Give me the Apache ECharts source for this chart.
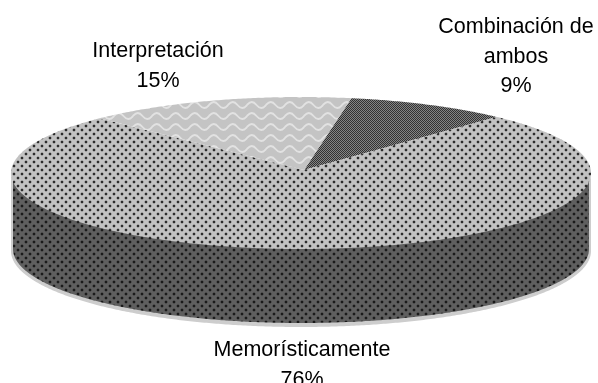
<!DOCTYPE html>
<html>
<head>
<meta charset="utf-8">
<style>html,body{margin:0;padding:0;background:#fff}#chart{width:598px;height:383px}</style>
<script src="https://cdn.jsdelivr.net/npm/echarts@6/dist/echarts.min.js"></script>
</head>
<body>
<div id="chart"></div>
<script>
// Survey shares, clockwise from the slice that begins near twelve o'clock.
var categories = ['Combinación de\nambos', 'Memorísticamente', 'Interpretación'];
var shares = [9, 76, 15];

// Disc geometry of the tilted pie.
var disc = { cx: 301, cy: 173, rx: 290, ry: 76, depth: 76, apexX: 304, apexY: 170, startDeg: 10 };
var labelSpots = [[516, 57], [302, 365], [158, 66]];

function tile(w, h, draw) {
  var c = document.createElement('canvas');
  c.width = w; c.height = h;
  draw(c.getContext('2d'));
  return { image: c, repeat: 'repeat' };
}
function dots(bg, halo, core) {
  return tile(8, 8, function (g) {
    g.fillStyle = bg; g.fillRect(0, 0, 8, 8);
    [[1, 1], [5, 5]].forEach(function (p) {
      g.fillStyle = halo;
      g.fillRect(p[0] - 1, p[1], 4, 2);
      g.fillRect(p[0], p[1] - 1, 2, 4);
      g.fillStyle = core; g.fillRect(p[0], p[1], 2, 2);
    });
  });
}
var topDots = dots('#c2c2c2', '#a2a2a2', '#2c2c2c');
var sideDots = dots('#5f5f5f', '#4e4e4e', '#1a1a1a');
var waves = tile(19, 11, function (g) {
  g.fillStyle = '#c4c4c4'; g.fillRect(0, 0, 19, 11);
  g.strokeStyle = '#e2e2e2'; g.lineWidth = 1.8;
  g.beginPath();
  g.moveTo(-19, 6);
  for (var x = -19; x < 38; x += 9.5) {
    var up = Math.round((x + 19) / 9.5) % 2 === 0;
    g.quadraticCurveTo(x + 4.75, up ? 0 : 12, x + 9.5, 6);
  }
  g.stroke();
});
var checks = tile(2, 2, function (g) {
  g.fillStyle = '#858585'; g.fillRect(0, 0, 2, 2);
  g.fillStyle = '#333333'; g.fillRect(0, 0, 1, 1); g.fillRect(1, 1, 1, 1);
});
var topFills = [checks, topDots, waves];

function rimPoint(deg, grow, drop) {
  var a = deg * Math.PI / 180;
  return [disc.cx + (disc.rx + grow) * Math.sin(a), disc.cy - (disc.ry + grow) * Math.cos(a) + drop];
}
function arc(from, to, grow, drop) {
  var pts = [], n = Math.max(2, Math.ceil(Math.abs(to - from) * 2));
  for (var i = 0; i <= n; i++) pts.push(rimPoint(from + (to - from) * i / n, grow, drop));
  return pts;
}
var total = shares.reduce(function (s, v) { return s + v; }, 0);
var bounds = [disc.startDeg];
shares.forEach(function (v, i) { bounds.push(bounds[i] + v / total * 360); });

function sideShape(from, to, inset, bottom) {
  var lo = Math.max(from, 90), hi = Math.min(to, 270);
  if (hi <= lo) return null;
  return arc(lo, hi, -inset, 0).concat(arc(hi, lo, -inset, bottom));
}

var option = {
  animation: false,
  series: [{
    type: 'custom',
    coordinateSystem: 'none',
    silent: true,
    data: shares,
    renderItem: function (params) {
      var i = params.dataIndex, from = bounds[i], to = bounds[i + 1], kids = [];
      var outer = sideShape(from, to, 0, disc.depth + 2);
      var inner = sideShape(from, to, 2, disc.depth);
      if (outer) kids.push({ type: 'polygon', shape: { points: outer }, style: { fill: '#cdcdcd' } });
      if (inner) kids.push({ type: 'polygon', shape: { points: inner }, style: { fill: sideDots } });
      kids.push({
        type: 'polygon',
        z2: 5,
        shape: { points: [[disc.apexX, disc.apexY]].concat(arc(from, to, 0, 0)) },
        style: { fill: topFills[i] }
      });
      kids.push({
        type: 'text',
        z2: 10,
        x: labelSpots[i][0],
        y: labelSpots[i][1],
        style: {
          text: categories[i] + '\n' + shares[i] + '%',
          fill: '#000',
          font: '21.5px "Liberation Sans", Arial, sans-serif',
          align: 'center',
          verticalAlign: 'middle',
          lineHeight: 29.5
        }
      });
      return { type: 'group', children: kids };
    }
  }]
};
echarts.init(document.getElementById('chart'), null, { renderer: 'canvas' }).setOption(option);
</script>
</body>
</html>
